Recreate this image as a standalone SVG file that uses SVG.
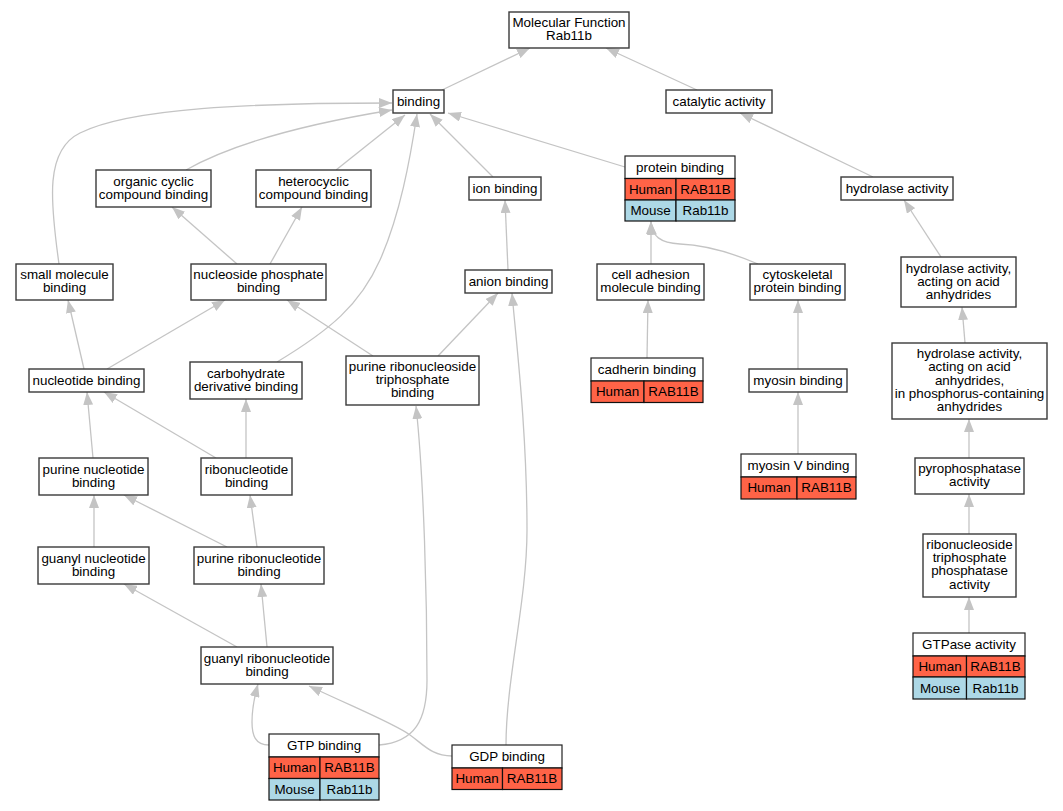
<svg xmlns="http://www.w3.org/2000/svg" width="1063" height="811" viewBox="0 0 1063 811">
<style>
text{font-family:"Liberation Sans",Arial,sans-serif;font-size:13.4px;fill:#000;text-anchor:middle}
.n{fill:#fff;stroke:#3a3a3a;stroke-width:1.4}
.h{fill:#fff;stroke:#222;stroke-width:1.2}
.hu{fill:#ff6347;stroke:#111;stroke-width:1.2}
.mo{fill:#add8e6;stroke:#111;stroke-width:1.2}
.e{fill:none;stroke:#c4c4c4;stroke-width:1.3;marker-end:url(#ah)}
</style>
<defs>
<marker id="ah" viewBox="0 0 13 10" refX="13" refY="5" markerWidth="13" markerHeight="10" markerUnits="userSpaceOnUse" orient="auto">
<path d="M0,0 L13,5 L0,10 z" fill="#c4c4c4"/>
</marker>
</defs>
<rect width="1063" height="811" fill="#fff"/>
<g id="edges">
<path class="e" d="M442,90 L530,48"/>
<path class="e" d="M697,90 L606,48"/>
<path class="e" d="M59,264 C50,200 45,150 80,133 C130,108 250,103 392,103"/>
<path class="e" d="M186,170 C230,145 300,125 392,110"/>
<path class="e" d="M336,170 L405,115"/>
<path class="e" d="M277,362 C330,330 360,305 380,260 C400,215 410,160 417,114"/>
<path class="e" d="M493,177 L430,114"/>
<path class="e" d="M625,167 L448,113"/>
<path class="e" d="M873,177 L740,113"/>
<path class="e" d="M237,264 L172,207"/>
<path class="e" d="M270,264 L302,207"/>
<path class="e" d="M508,270 L505,200"/>
<path class="e" d="M651,264 L651,221"/>
<path class="e" d="M758,264 C730,252 705,245 680,244 C660,243 652,236 651,222"/>
<path class="e" d="M941,257 L904,200"/>
<path class="e" d="M647,358 L648,300"/>
<path class="e" d="M798,369 L798,300"/>
<path class="e" d="M84,369 L68,300"/>
<path class="e" d="M107,369 L225,300"/>
<path class="e" d="M373,356 L287,300"/>
<path class="e" d="M438,356 L498,293"/>
<path class="e" d="M965,343 L962,307"/>
<path class="e" d="M93,458 L87,392"/>
<path class="e" d="M216,458 L104,392"/>
<path class="e" d="M246,458 L246,399"/>
<path class="e" d="M798,454 L798,392"/>
<path class="e" d="M969,458 L969,419"/>
<path class="e" d="M94,547 L94,495"/>
<path class="e" d="M227,547 L124,495"/>
<path class="e" d="M257,547 L250,495"/>
<path class="e" d="M969,534 L969,494"/>
<path class="e" d="M237,647 L124,584"/>
<path class="e" d="M267,647 L261,584"/>
<path class="e" d="M969,633 L969,597"/>
<path class="e" d="M269,745 C255,745 252,735 252,722 C252,705 255,695 258,684"/>
<path class="e" d="M379,745 C415,742 427,720 427,680 C427,600 424,480 416,406"/>
<path class="e" d="M452,756 C432,756 424,745 410,735 C395,724 360,710 309,686"/>
<path class="e" d="M506,745 C506,680 527,600 527,530 C527,430 516,340 512,293"/>
</g>
<g id="mf"><rect class="n" x="509" y="12" width="120" height="36"/><text x="569" y="27">Molecular Function</text><text x="569" y="40">Rab11b</text></g>
<g id="binding"><rect class="n" x="393" y="90" width="51" height="23"/><text x="418.5" y="106">binding</text></g>
<g id="catalytic"><rect class="n" x="666" y="90" width="106" height="23"/><text x="719" y="106">catalytic activity</text></g>
<g id="organic"><rect class="n" x="96" y="170" width="115" height="37"/><text x="153.5" y="185.5">organic cyclic</text><text x="153.5" y="198.5">compound binding</text></g>
<g id="heterocyclic"><rect class="n" x="256" y="170" width="115" height="37"/><text x="313.5" y="185.5">heterocyclic</text><text x="313.5" y="198.5">compound binding</text></g>
<g id="ion"><rect class="n" x="469" y="177" width="72" height="23"/><text x="505" y="193">ion binding</text></g>
<g id="hydrolase"><rect class="n" x="841" y="177" width="112" height="23"/><text x="897" y="193">hydrolase activity</text></g>
<g id="protein">
<rect class="h" x="625" y="156" width="110" height="22.5"/><text x="680" y="171.5">protein binding</text>
<rect class="hu" x="625" y="178.5" width="51" height="21.5"/><rect class="hu" x="676" y="178.5" width="59" height="21.5"/>
<text x="650.5" y="193.5">Human</text><text x="705.5" y="193.5">RAB11B</text>
<rect class="mo" x="625" y="200" width="51" height="21"/><rect class="mo" x="676" y="200" width="59" height="21"/>
<text x="650.5" y="215">Mouse</text><text x="705.5" y="215">Rab11b</text>
</g>
<g id="small"><rect class="n" x="16" y="264" width="97" height="36"/><text x="64.5" y="279">small molecule</text><text x="64.5" y="292">binding</text></g>
<g id="nucleoside"><rect class="n" x="191" y="264" width="135" height="36"/><text x="258.5" y="279">nucleoside phosphate</text><text x="258.5" y="292">binding</text></g>
<g id="anion"><rect class="n" x="465" y="270" width="87" height="23"/><text x="508.5" y="286">anion binding</text></g>
<g id="celladh"><rect class="n" x="597" y="264" width="107" height="36"/><text x="650.5" y="279">cell adhesion</text><text x="650.5" y="292">molecule binding</text></g>
<g id="cytoskeletal"><rect class="n" x="750" y="264" width="95" height="36"/><text x="797.5" y="279">cytoskeletal</text><text x="797.5" y="292">protein binding</text></g>
<g id="hydacting"><rect class="n" x="901" y="257" width="115" height="50"/><text x="958.5" y="272.5">hydrolase activity,</text><text x="958.5" y="285.5">acting on acid</text><text x="958.5" y="298.5">anhydrides</text></g>
<g id="nucleotide"><rect class="n" x="29" y="369" width="115" height="23"/><text x="86.5" y="385">nucleotide binding</text></g>
<g id="carbohydrate"><rect class="n" x="190" y="362" width="112" height="37"/><text x="246" y="377.5">carbohydrate</text><text x="246" y="390.5">derivative binding</text></g>
<g id="prtb"><rect class="n" x="346" y="356" width="133" height="49"/><text x="412.5" y="371">purine ribonucleoside</text><text x="412.5" y="384">triphosphate</text><text x="412.5" y="397">binding</text></g>
<g id="cadherin">
<rect class="h" x="591" y="358" width="112" height="23"/><text x="647" y="374">cadherin binding</text>
<rect class="hu" x="591" y="381" width="53" height="21.5"/><rect class="hu" x="644" y="381" width="59" height="21.5"/>
<text x="617.5" y="396">Human</text><text x="673.5" y="396">RAB11B</text>
</g>
<g id="myosin"><rect class="n" x="749" y="369" width="98" height="23"/><text x="798" y="385">myosin binding</text></g>
<g id="hydphos"><rect class="n" x="892" y="343" width="155" height="76"/><text x="969.5" y="358.1">hydrolase activity,</text><text x="969.5" y="371.3">acting on acid</text><text x="969.5" y="384.5">anhydrides,</text><text x="969.5" y="397.7">in phosphorus-containing</text><text x="969.5" y="410.9">anhydrides</text></g>
<g id="purinenuc"><rect class="n" x="39" y="458" width="109" height="37"/><text x="93.5" y="473.5">purine nucleotide</text><text x="93.5" y="486.5">binding</text></g>
<g id="ribonucleotide"><rect class="n" x="201" y="458" width="91" height="37"/><text x="246.5" y="473.5">ribonucleotide</text><text x="246.5" y="486.5">binding</text></g>
<g id="myosinv">
<rect class="h" x="741" y="454" width="115" height="23"/><text x="798.5" y="470">myosin V binding</text>
<rect class="hu" x="741" y="477" width="56" height="22"/><rect class="hu" x="797" y="477" width="59" height="22"/>
<text x="769" y="492">Human</text><text x="826.5" y="492">RAB11B</text>
</g>
<g id="pyro"><rect class="n" x="915" y="458" width="109" height="36"/><text x="969.5" y="473">pyrophosphatase</text><text x="969.5" y="486">activity</text></g>
<g id="guanylnuc"><rect class="n" x="38" y="547" width="111" height="37"/><text x="93.5" y="562.5">guanyl nucleotide</text><text x="93.5" y="575.5">binding</text></g>
<g id="purineribo"><rect class="n" x="194" y="547" width="130" height="37"/><text x="259" y="562.5">purine ribonucleotide</text><text x="259" y="575.5">binding</text></g>
<g id="rtpa"><rect class="n" x="923" y="534" width="93" height="63"/><text x="969.5" y="549">ribonucleoside</text><text x="969.5" y="562.2">triphosphate</text><text x="969.5" y="575.4">phosphatase</text><text x="969.5" y="588.6">activity</text></g>
<g id="guanylribo"><rect class="n" x="201" y="647" width="132" height="37"/><text x="267" y="662.5">guanyl ribonucleotide</text><text x="267" y="675.5">binding</text></g>
<g id="gtpase">
<rect class="h" x="913" y="633" width="112" height="23"/><text x="969" y="649">GTPase activity</text>
<rect class="hu" x="913" y="656" width="53.5" height="21"/><rect class="hu" x="966.5" y="656" width="58.5" height="21"/>
<text x="940" y="670.5">Human</text><text x="995.5" y="670.5">RAB11B</text>
<rect class="mo" x="913" y="677" width="53.5" height="22"/><rect class="mo" x="966.5" y="677" width="58.5" height="22"/>
<text x="940" y="692.5">Mouse</text><text x="995.5" y="692.5">Rab11b</text>
</g>
<g id="gtp">
<rect class="h" x="269" y="734" width="110" height="23"/><text x="324" y="750">GTP binding</text>
<rect class="hu" x="269" y="757" width="51" height="21.5"/><rect class="hu" x="320" y="757" width="59" height="21.5"/>
<text x="294.5" y="772">Human</text><text x="349.5" y="772">RAB11B</text>
<rect class="mo" x="269" y="778.5" width="51" height="21.5"/><rect class="mo" x="320" y="778.5" width="59" height="21.5"/>
<text x="294.5" y="793.5">Mouse</text><text x="349.5" y="793.5">Rab11b</text>
</g>
<g id="gdp">
<rect class="h" x="452" y="745" width="110" height="23"/><text x="507" y="761">GDP binding</text>
<rect class="hu" x="452" y="768" width="50.5" height="21.5"/><rect class="hu" x="502.5" y="768" width="59.5" height="21.5"/>
<text x="477" y="783">Human</text><text x="532" y="783">RAB11B</text>
</g>
</svg>
